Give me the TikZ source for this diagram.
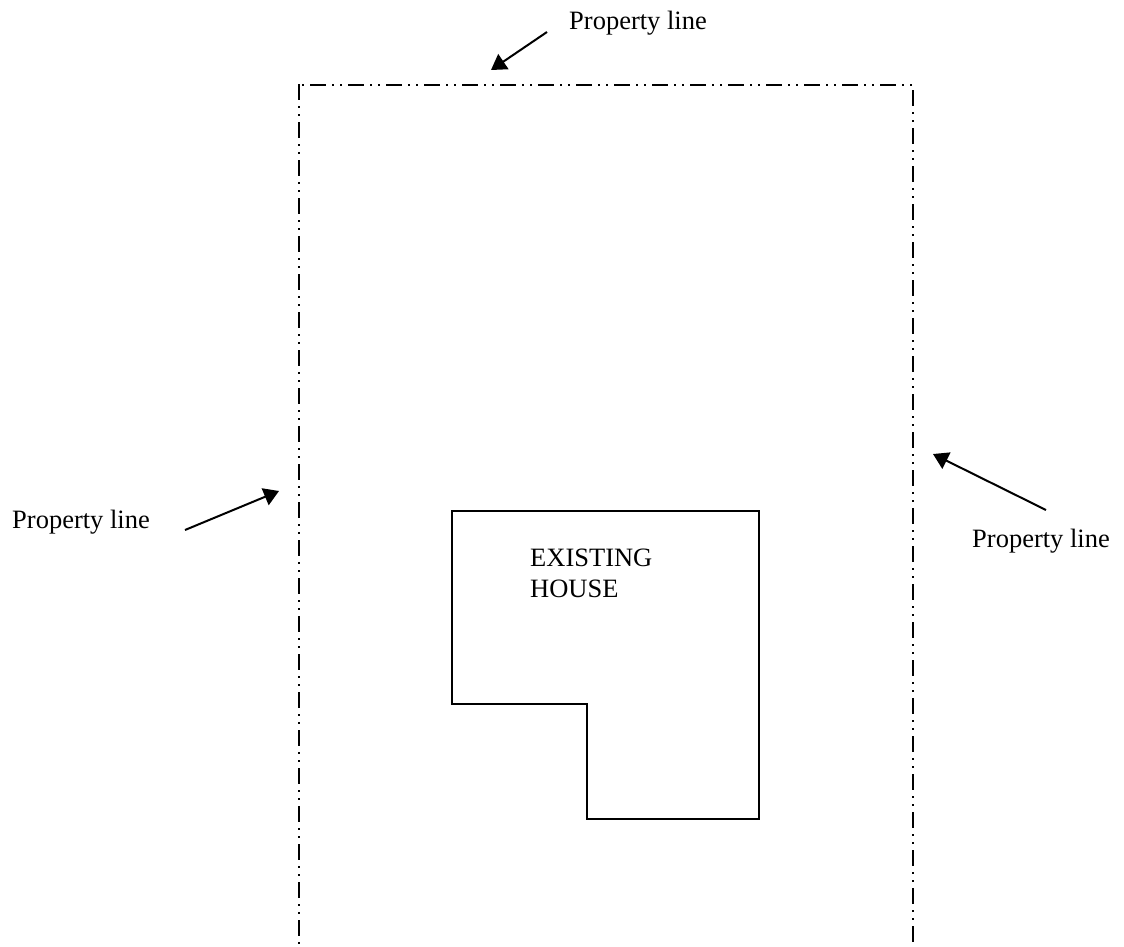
\documentclass[tikz,border=0pt]{standalone}
\usepackage{fontspec}
\setmainfont{Liberation Serif}
\usetikzlibrary{arrows.meta}
\tikzset{
  lbl/.style={anchor=base west,inner sep=0pt,font=\fontsize{26.5}{30}\selectfont},
  propline/.style={line width=2pt,black,dash pattern=on 16pt off 6pt on 2pt off 6pt on 2pt off 6pt},
  pointer/.style={line width=2pt,black,-{Triangle[length=15pt,width=18pt]}},
  house/.style={line width=2pt,black,line join=miter}
}
\begin{document}
\begin{tikzpicture}[x=1pt,y=-1pt]
\useasboundingbox (0,0) rectangle (1124,946);
% property lines
\draw[propline,dash phase=27pt] (299,84.5) -- (913,84.5);
\draw[propline] (299,84) -- (299,946);
\draw[propline] (913,90) -- (913,946);
% house
\draw[house] (452,511) -- (759,511) -- (759,819) -- (587,819) -- (587,704) -- (452,704) -- cycle;
% labels
\node[lbl] (top) at (569,29) {Property line};
\node[lbl] (left) at (12,528) {Property line};
\node[lbl] (right) at (972,547) {Property line};
\node[lbl] (ex) at (530,566) {EXISTING};
\node[lbl] (ho) at (530,597) {HOUSE};
% pointers
\coordinate (topS) at (547,32);
\coordinate (topT) at (491,70);
\coordinate (leftS) at (185,530);
\coordinate (leftT) at (279,491);
\coordinate (rightS) at (1046,510);
\coordinate (rightT) at (933,454);
\draw[pointer] (topS) -- (topT);
\draw[pointer] (leftS) -- (leftT);
\draw[pointer] (rightS) -- (rightT);
\end{tikzpicture}
\end{document}
